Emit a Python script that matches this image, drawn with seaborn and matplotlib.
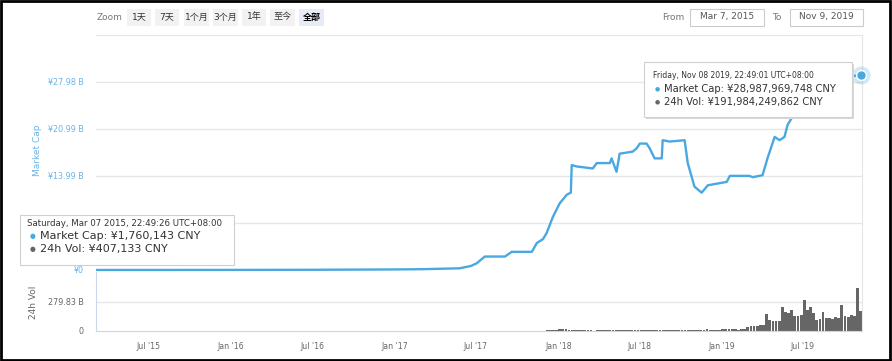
import matplotlib
matplotlib.use("Agg")
import matplotlib.pyplot as plt
from matplotlib.patches import Rectangle
import seaborn as sns
import pandas as pd

# ---------------- data ----------------
cap_dates = ["2015-03-07", "2015-09-01", "2016-01-01", "2016-07-01", "2017-01-01",
             "2017-03-05", "2017-05-26", "2017-06-20", "2017-07-03", "2017-07-21",
             "2017-09-04", "2017-09-19", "2017-11-03", "2017-11-14", "2017-11-28",
             "2017-12-06", "2017-12-20", "2018-01-04", "2018-01-20", "2018-01-29",
             "2018-01-31", "2018-02-11", "2018-03-19", "2018-03-28", "2018-04-26",
             "2018-04-30", "2018-05-11", "2018-05-18", "2018-06-16", "2018-06-25",
             "2018-07-02", "2018-07-17", "2018-07-24", "2018-08-04", "2018-08-20",
             "2018-08-22", "2018-09-07", "2018-10-10", "2018-10-17", "2018-11-01",
             "2018-11-17", "2018-12-01", "2019-01-12", "2019-01-19", "2019-03-04",
             "2019-03-11", "2019-04-02", "2019-04-13", "2019-04-29", "2019-05-10",
             "2019-05-21", "2019-05-28", "2019-06-17", "2019-07-16", "2019-08-30",
             "2019-10-02", "2019-11-08"]
cap_values = [0.00176, 0.005, 0.01, 0.03, 0.08,
              0.12, 0.25, 0.6, 1.0, 2.0,
              2.0, 2.7, 2.7, 4.0, 4.6,
              5.5, 7.9, 9.9, 11.2, 11.5,
              15.6, 15.4, 15.1, 15.9, 15.9,
              16.6, 14.6, 17.3, 17.6, 18.1,
              18.8, 18.8, 18.1, 16.6, 16.6,
              19.3, 19.1, 19.3, 15.9, 12.4,
              11.5, 12.6, 13.1, 14.0, 14.0,
              13.8, 14.1, 16.6, 19.8, 19.3,
              19.8, 21.6, 23.8, 26.0, 28.3,
              28.7, 28.99]

vol_start = "2017-12-04"   # weekly bars
vol_values = [8, 10, 12, 14,
              15, 18, 20, 14, 10, 8, 6,
              6, 7, 5, 6, 4, 6, 12, 14, 12, 10,
              10, 12, 9, 8, 10, 11, 9, 12, 10, 8,
              10, 12, 9, 10, 11, 8, 10, 9, 12, 10,
              9, 8, 10, 14, 6, 5, 6, 8,
              12, 14, 16, 12, 14, 10, 12,
              16, 18, 24, 20, 18, 14, 16, 20,
              35, 45, 50, 52, 55, 58,
              166, 110, 95, 92, 100,
              231, 185, 170, 200,
              140, 145, 150, 296, 200, 230, 170, 110, 120, 180,
              130, 125, 120, 135, 125, 254, 140, 135, 150, 145, 416, 192]

cap_ticks = [0, 6.99, 13.99, 20.99, 27.98]
cap_ticklabels = ["¥0", "", "¥13.99 B", "¥20.99 B", "¥27.98 B"]  # ¥6.99 B hidden by tooltip
vol_ticks = [0, 279.83, 559.66]
vol_ticklabels = ["0", "279.83 B", ""]
x_ticks = ["2015-07-01", "2016-01-01", "2016-07-01", "2017-01-01", "2017-07-01",
           "2018-01-01", "2018-07-01", "2019-01-01", "2019-07-01"]
x_ticklabels = ["Jul '15", "Jan '16", "Jul '16", "Jan '17", "Jul '17",
                "Jan '18", "Jul '18", "Jan '19", "Jul '19"]
zoom_buttons = ["1天", "7天", "1个月", "3个月", "1年", "至今", "全部"]

# ---------------- style ----------------
sns.set_style("white")
plt.rcParams["font.family"] = ["DejaVu Sans", "Noto Sans CJK SC"]

W, H = 892, 361
BLUE = "#4aa8e0"
LBLUE = "#6ab4e6"
GRAY = "#666666"
GRID = "#e6e6e6"
AXC = "#ccd6eb"

fig = plt.figure(figsize=(W / 100, H / 100), dpi=100)

def fx(x):
    return x / W

def fy(y):
    return 1 - y / H

x0, x1 = 96, 862
xlim = (pd.Timestamp("2015-03-06"), pd.Timestamp("2019-11-10"))

# ---- main axes ----
ax = fig.add_axes([fx(x0), fy(272), (x1 - x0) / W, (272 - 35) / H])
cap_df = pd.DataFrame({"date": pd.to_datetime(cap_dates), "cap": cap_values})
ax.set_xlim(xlim)
ax.set_ylim(-0.30, 34.95)
for t in cap_ticks[1:]:
    ax.axhline(t, color=GRID, lw=1, zorder=0)
sns.lineplot(data=cap_df, x="date", y="cap", ax=ax, color=BLUE, lw=1.7, zorder=3)
ax.plot([cap_df["date"].iloc[-1]], [cap_df["cap"].iloc[-1]], "o", ms=13,
        color=BLUE, alpha=0.25, zorder=4, clip_on=False, mec="none")
ax.plot([cap_df["date"].iloc[-1]], [cap_df["cap"].iloc[-1]], "o", ms=7,
        color=BLUE, zorder=5, clip_on=False, mec="white", mew=1)
ax.set_yticks(cap_ticks)
ax.set_yticklabels(cap_ticklabels, color=LBLUE, fontsize=5.8)
ax.tick_params(axis="y", length=0, pad=9)
ax.set_xticks([])
ax.set_xlabel("")
ax.set_ylabel("")
for s in ["left", "bottom"]:
    ax.spines[s].set_visible(False)
ax.spines["top"].set_color(GRID)
ax.spines["right"].set_color(GRID)
fig.text(fx(37), fy(150), "Market Cap", rotation=90, color=LBLUE, fontsize=6.5,
         ha="center", va="center")

# ---- volume axes ----
vax = fig.add_axes([fx(x0), fy(331), (x1 - x0) / W, (331 - 272) / H])
vdates = pd.date_range(vol_start, periods=len(vol_values), freq="7D")
vax.set_xlim(xlim)
vax.set_ylim(0, 569)
vax.axhline(279.83, color=GRID, lw=1, zorder=0)
vax.bar(vdates, vol_values, width=6.2, color=GRAY, align="edge", lw=0, zorder=2)
vax.set_yticks(vol_ticks)
vax.set_yticklabels(vol_ticklabels, color=GRAY, fontsize=5.8)
vax.tick_params(axis="y", length=0, pad=9)
vax.set_xticks(pd.to_datetime(x_ticks))
vax.set_xticklabels(x_ticklabels, color=GRAY, fontsize=5.6)
vax.tick_params(axis="x", length=5, color=AXC, width=1, direction="out", pad=3)
vax.spines["top"].set_visible(False)
vax.spines["left"].set_color(AXC)
vax.spines["bottom"].set_color(AXC)
vax.spines["right"].set_color(GRID)
fig.text(fx(33), fy(302), "24h Vol", rotation=90, color=GRAY, fontsize=6.5,
         ha="center", va="center")

# ---- toolbar ----
fig.text(fx(97), fy(17), "Zoom", color="#777777", fontsize=6.5, va="center", ha="left")
bx = [127, 155, 184, 213, 242, 270, 299]
bw = [24, 24, 25, 25, 24, 25, 25]
for lab, x, w in zip(zoom_buttons, bx, bw):
    sel = lab == "全部"
    fig.patches.append(Rectangle((fx(x), fy(26)), w / W, 17 / H, transform=fig.transFigure,
                                 facecolor="#e6ebf5" if sel else "#f2f2f2", edgecolor="none"))
    fig.text(fx(x + w / 2), fy(17), lab, color="#000000" if sel else "#333333",
             fontsize=6.5, ha="center", va="center", fontweight="bold" if sel else "normal")

fig.text(fx(662), fy(17), "From", color="#777777", fontsize=6.5, va="center", ha="left")
fig.patches.append(Rectangle((fx(690), fy(26)), 74 / W, 17 / H, transform=fig.transFigure,
                             facecolor="white", edgecolor="#cccccc", lw=0.8))
fig.text(fx(727), fy(17), "Mar 7, 2015", color="#555555", fontsize=6.5, va="center", ha="center")
fig.text(fx(772), fy(17), "To", color="#777777", fontsize=6.5, va="center", ha="left")
fig.patches.append(Rectangle((fx(790), fy(26)), 73 / W, 17 / H, transform=fig.transFigure,
                             facecolor="white", edgecolor="#cccccc", lw=0.8))
fig.text(fx(826), fy(17), "Nov 9, 2019", color="#555555", fontsize=6.5, va="center", ha="center")

# ---- tooltips ----
def tooltip(xl, yt, xr, yb, lines, shadow=False):
    if shadow:
        fig.patches.append(Rectangle((fx(xl + 2), fy(yb + 2)), (xr - xl) / W, (yb - yt) / H,
                                     transform=fig.transFigure, facecolor="#d8d8d8",
                                     edgecolor="none", zorder=8))
    fig.patches.append(Rectangle((fx(xl), fy(yb)), (xr - xl) / W, (yb - yt) / H,
                                 transform=fig.transFigure, facecolor="white",
                                 edgecolor="#d0d0d0", lw=0.8, zorder=9))
    for (x, y, txt, fs, col, bullet) in lines:
        if bullet:
            fig.text(fx(x - 7), fy(y), "●", color=bullet, fontsize=fs * 0.6,
                     va="center", ha="center", zorder=10)
        fig.text(fx(x), fy(y), txt, color=col, fontsize=fs, va="center", ha="left", zorder=10)

tooltip(20, 215, 234, 265, [
    (27, 223, "Saturday, Mar 07 2015, 22:49:26 UTC+08:00", 6.2, "#333333", None),
    (40, 236, "Market Cap: ¥1,760,143 CNY", 8.0, "#333333", BLUE),
    (40, 249, "24h Vol: ¥407,133 CNY", 8.0, "#333333", GRAY),
])
tooltip(644, 62, 852, 117, [
    (653, 76, "Friday, Nov 08 2019, 22:49:01 UTC+08:00", 5.5, "#333333", None),
    (664, 89, "Market Cap: ¥28,987,969,748 CNY", 7.2, "#333333", BLUE),
    (664, 102, "24h Vol: ¥191,984,249,862 CNY", 7.2, "#333333", GRAY),
], shadow=True)

# ---- outer frame ----
fig.patches.append(Rectangle((0.001, 0.003), 0.997, 0.994, transform=fig.transFigure,
                             facecolor="none", edgecolor="black", lw=2, zorder=20))

fig.savefig("out.png", dpi=100)
